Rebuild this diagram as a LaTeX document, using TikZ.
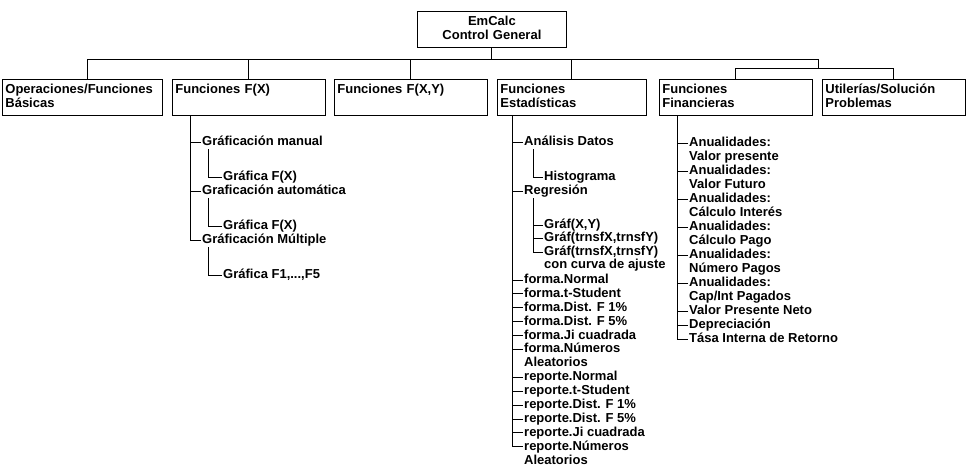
\documentclass[tikz,border=0pt]{standalone}
\usepackage{fontspec}
\setmainfont{Liberation Sans}
\tikzset{
  box/.style={draw, line width=0.8pt, anchor=north west, align=left, inner xsep=3pt, inner ysep=4pt, minimum height=36pt, font=\fontsize{13}{14}\selectfont\bfseries},
  item/.style={anchor=west, inner sep=1pt, text height=9.5pt, text depth=2.7pt, font=\fontsize{13}{14}\selectfont\bfseries},
  link/.style={line width=1pt}
}
\begin{document}
\begin{tikzpicture}[x=1pt,y=-1pt]
\useasboundingbox (0,0) rectangle (967,467);
%\draw (0,0) rectangle (967,467);

\draw (417,11) node[box,align=center,text width=143pt] (emcalc) {EmCalc\\Control General\strut};

\draw (2,79) node[box,text width=154pt] (ops) {Operaciones/Funciones\\Básicas\strut};
\draw (172,79) node[box,text width=147pt] (fx) {Funciones F(X)\\\strut};
\draw (334,79) node[box,text width=147pt] (fxy) {Funciones F(X,Y)\\\strut};
\draw (497,79) node[box,text width=143pt] (est) {Funciones\\Estadísticas\strut};
\draw (659,79) node[box,text width=147pt] (fin) {Funciones\\Financieras\strut};
\draw (822,79) node[box,text width=137pt] (util) {Utilerías/Solución\\Problemas\strut};

\draw[link] (emcalc.south) -- ++(0,12) coordinate (bus);
\coordinate (bus2) at (818,68);
\draw[link] (bus) -| ([xshift=5]ops.north);
\draw[link] (bus) -| (fx.north);
\draw[link] (bus) -| (fxy.north);
\draw[link] (bus) -| (est.north);
\draw[link] (bus) -| (bus2) -| (fin.north);
\draw[link] (bus2) -| (util.north);

% funciones F(X)
\draw (201,142) node[item] (gman) {Gráficación manual};
\draw (222,177) node[item] (gfx1) {Gráfica F(X)};
\draw (201,191) node[item] (gaut) {Graficación automática};
\draw (222,226) node[item] (gfx2) {Gráfica F(X)};
\draw (201,240) node[item] (gmul) {Gráficación Múltiple};
\draw (222,275) node[item] (gfcin) {Gráfica F1,...,F5};

\draw[link] ([xshift=-58.5]fx.south) |- (gmul.west);
\draw[link] (gman.west) -- ++(-11,0);
\draw[link] (gaut.west) -- ++(-11,0);
\draw[link] ([xshift=7]gman.south west) |- (gfx1.west);
\draw[link] ([xshift=7]gaut.south west) |- (gfx2.west);
\draw[link] ([xshift=7]gmul.south west) |- (gfcin.west);

% funciones estadisticas
\draw (523,142) node[item] (edat) {Análisis Datos};
\draw (543,177) node[item] (ehist) {Histograma};
\draw (523,191) node[item] (ereg) {Regresión};
\draw (543,225) node[item] (egxy) {Gráf(X,Y)};
\draw (543,238.5) node[item] (egtr) {Gráf(trnsfX,trnsfY)};
\draw (543,252) node[item] (egaj) {Gráf(trnsfX,trnsfY)};
\draw (543,265.5) node[item] (egajb) {con curva de ajuste};
\draw (523,280) node[item] (efn) {forma.Normal};
\draw (523,293.9) node[item] (eft) {forma.t-Student};
\draw (523,307.8) node[item] (efa) {forma.Dist. F 1\%};
\draw (523,321.7) node[item] (efb) {forma.Dist. F 5\%};
\draw (523,335.6) node[item] (efji) {forma.Ji cuadrada};
\draw (523,349.5) node[item] (efnum) {forma.Números};
\draw (523,363.4) node[item] (efnumb) {Aleatorios};
\draw (523,377.3) node[item] (ern) {reporte.Normal};
\draw (523,391.2) node[item] (ert) {reporte.t-Student};
\draw (523,405.1) node[item] (era) {reporte.Dist. F 1\%};
\draw (523,419) node[item] (erb) {reporte.Dist. F 5\%};
\draw (523,432.9) node[item] (erji) {reporte.Ji cuadrada};
\draw (523,446.8) node[item] (ernum) {reporte.Números};
\draw (523,460.7) node[item] (ernumb) {Aleatorios};

\draw[link] ([xshift=-59.5]est.south) |- (ernum.west);
\draw[link] (edat.west) -- ++(-11,0);
\draw[link] (ereg.west) -- ++(-11,0);
\draw[link] (efn.west) -- ++(-11,0);
\draw[link] (eft.west) -- ++(-11,0);
\draw[link] (efa.west) -- ++(-11,0);
\draw[link] (efb.west) -- ++(-11,0);
\draw[link] (efji.west) -- ++(-11,0);
\draw[link] (efnum.west) -- ++(-11,0);
\draw[link] (ern.west) -- ++(-11,0);
\draw[link] (ert.west) -- ++(-11,0);
\draw[link] (era.west) -- ++(-11,0);
\draw[link] (erb.west) -- ++(-11,0);
\draw[link] (erji.west) -- ++(-11,0);
\draw[link] ([xshift=10]edat.south west) |- (ehist.west);
\draw[link] ([xshift=10]ereg.south west) |- (egaj.west);
\draw[link] (egxy.west) -- ++(-10,0);
\draw[link] (egtr.west) -- ++(-10,0);

% funciones financieras
\draw (688,143) node[item] (fa) {Anualidades:};
\draw (688,157) node[item] (fab) {Valor presente};
\draw (688,171) node[item] (fb) {Anualidades:};
\draw (688,185) node[item] (fbb) {Valor Futuro};
\draw (688,199) node[item] (fc) {Anualidades:};
\draw (688,213) node[item] (fcb) {Cálculo Interés};
\draw (688,227) node[item] (fd) {Anualidades:};
\draw (688,241) node[item] (fdb) {Cálculo Pago};
\draw (688,255) node[item] (fe) {Anualidades:};
\draw (688,269) node[item] (feb) {Número Pagos};
\draw (688,283) node[item] (ff) {Anualidades:};
\draw (688,297) node[item] (ffb) {Cap/Int Pagados};
\draw (688,311) node[item] (fvpn) {Valor Presente Neto};
\draw (688,325) node[item] (fdep) {Depreciación};
\draw (688,339) node[item] (ftir) {Tása Interna de Retorno};

\draw[link] ([xshift=-58.5]fin.south) |- (ftir.west);
\draw[link] (fa.west) -- ++(-11,0);
\draw[link] (fb.west) -- ++(-11,0);
\draw[link] (fc.west) -- ++(-11,0);
\draw[link] (fd.west) -- ++(-11,0);
\draw[link] (fe.west) -- ++(-11,0);
\draw[link] (ff.west) -- ++(-11,0);
\draw[link] (fvpn.west) -- ++(-11,0);
\draw[link] (fdep.west) -- ++(-11,0);
\end{tikzpicture}
\end{document}
